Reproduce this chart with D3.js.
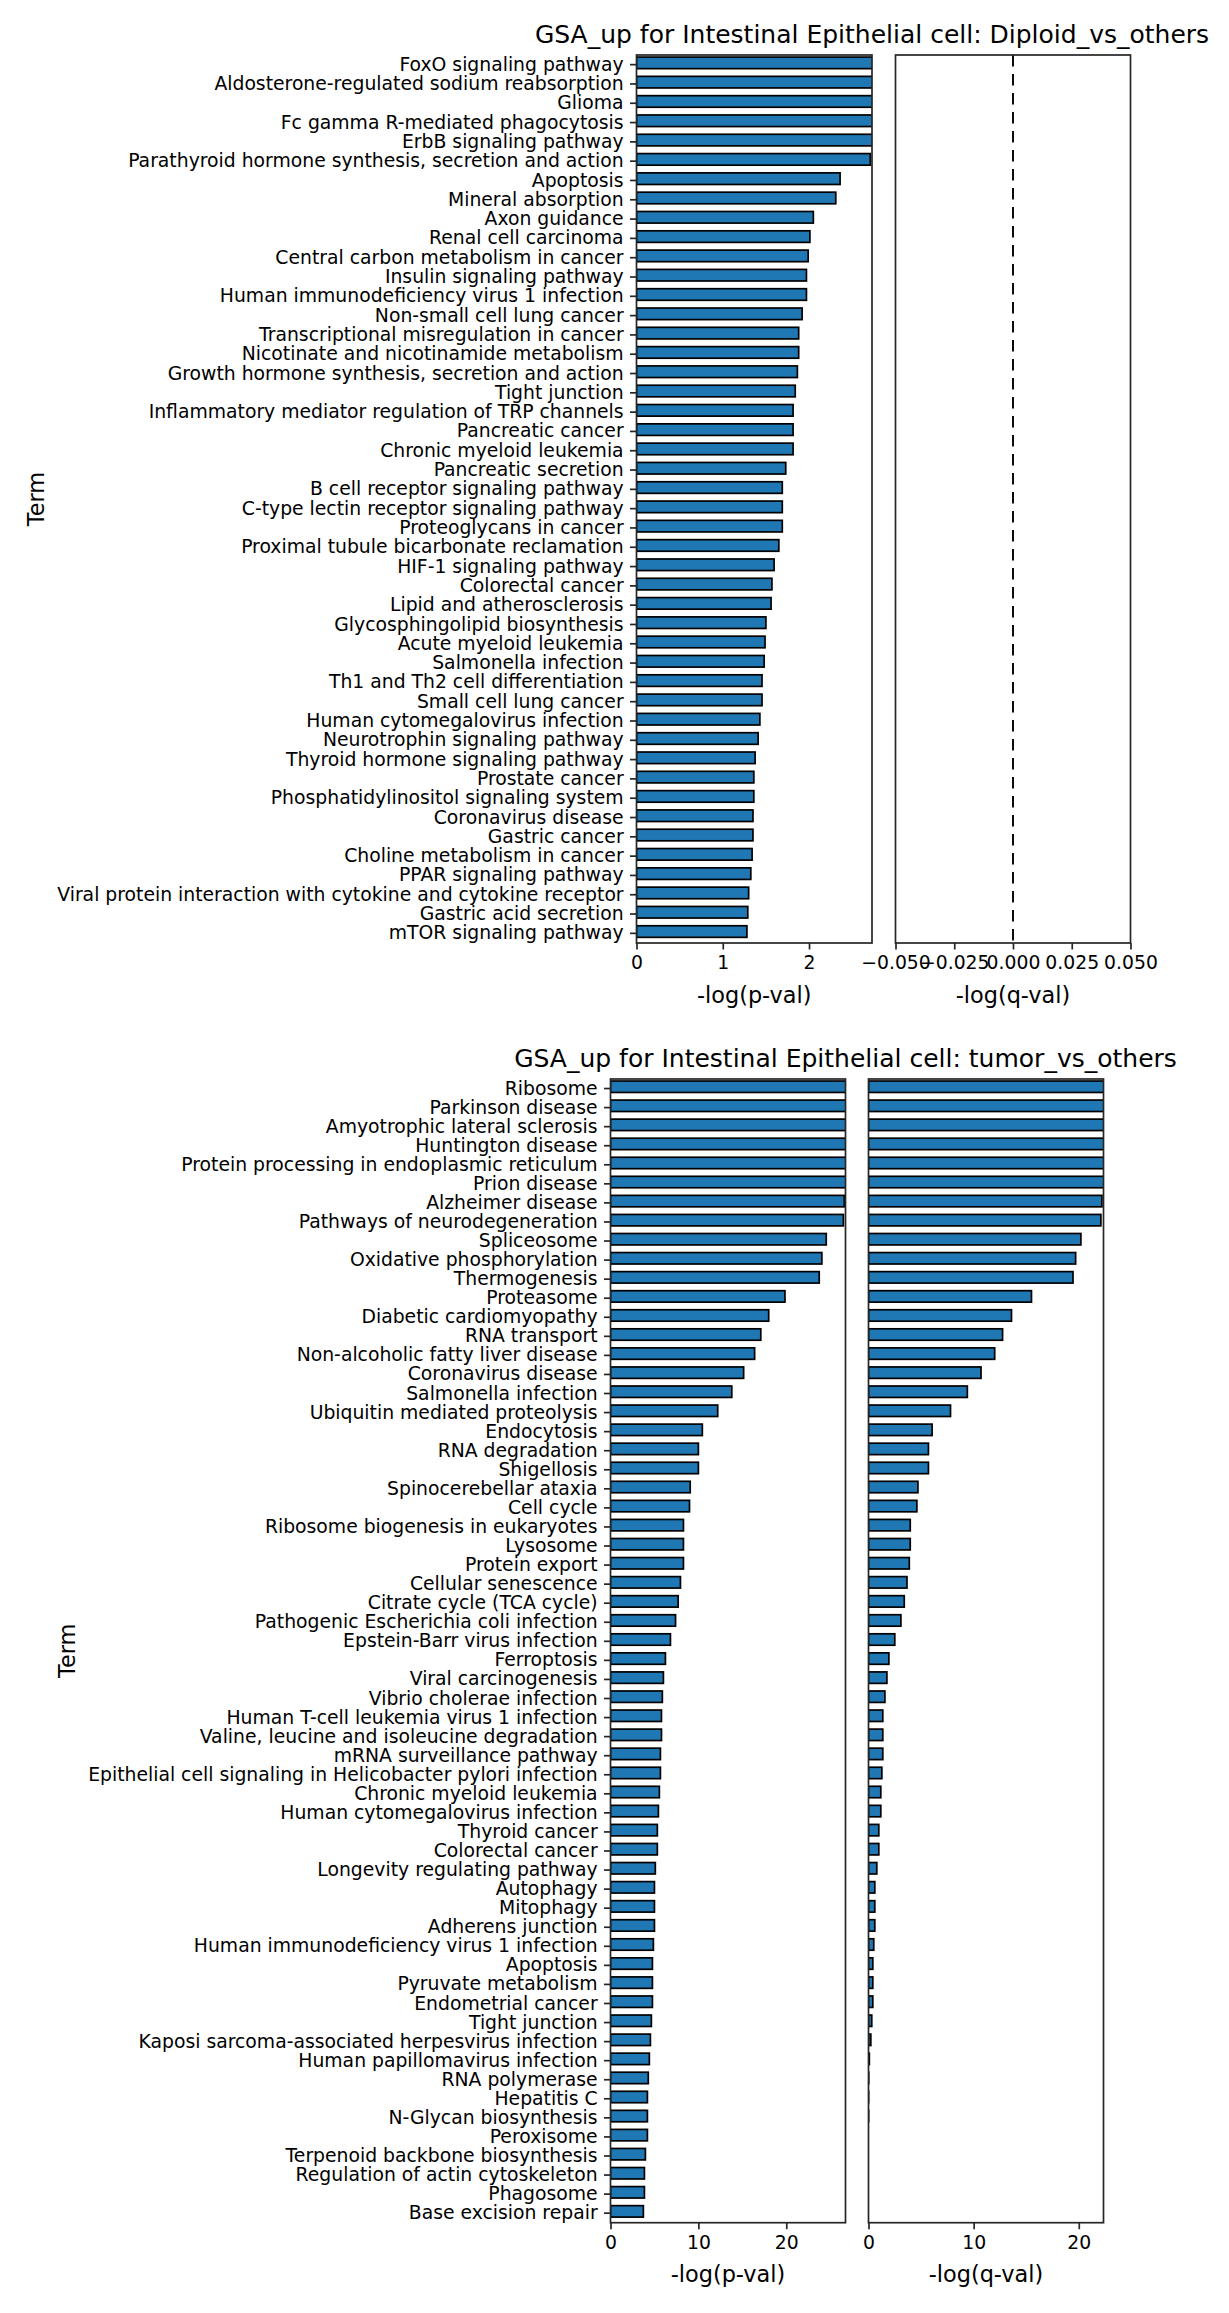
<!DOCTYPE html>
<html>
<head>
<meta charset="utf-8">
<script src="https://cdn.jsdelivr.net/npm/d3@7"></script>
<style>
  body { margin: 0; background: #fff; }
  text { font-family: "DejaVu Sans", sans-serif; }
</style>
</head>
<body>
<div id="chart"></div>
<script>
// GSA_up bar charts, two figures stacked

// ---- data: top figure (Diploid_vs_others) ----
var topTerms = ["FoxO signaling pathway", "Aldosterone-regulated sodium reabsorption", "Glioma",
  "Fc gamma R-mediated phagocytosis", "ErbB signaling pathway",
  "Parathyroid hormone synthesis, secretion and action", "Apoptosis", "Mineral absorption",
  "Axon guidance", "Renal cell carcinoma", "Central carbon metabolism in cancer",
  "Insulin signaling pathway", "Human immunodeficiency virus 1 infection", "Non-small cell lung cancer",
  "Transcriptional misregulation in cancer", "Nicotinate and nicotinamide metabolism",
  "Growth hormone synthesis, secretion and action", "Tight junction",
  "Inflammatory mediator regulation of TRP channels", "Pancreatic cancer", "Chronic myeloid leukemia",
  "Pancreatic secretion", "B cell receptor signaling pathway", "C-type lectin receptor signaling pathway",
  "Proteoglycans in cancer", "Proximal tubule bicarbonate reclamation", "HIF-1 signaling pathway",
  "Colorectal cancer", "Lipid and atherosclerosis", "Glycosphingolipid biosynthesis",
  "Acute myeloid leukemia", "Salmonella infection", "Th1 and Th2 cell differentiation",
  "Small cell lung cancer", "Human cytomegalovirus infection", "Neurotrophin signaling pathway",
  "Thyroid hormone signaling pathway", "Prostate cancer", "Phosphatidylinositol signaling system",
  "Coronavirus disease", "Gastric cancer", "Choline metabolism in cancer", "PPAR signaling pathway",
  "Viral protein interaction with cytokine and cytokine receptor", "Gastric acid secretion",
  "mTOR signaling pathway"];
var topPval = [2.9, 2.9, 2.9, 2.9, 2.9, 2.71, 2.36, 2.31, 2.05, 2.01, 1.99, 1.97, 1.97, 1.92, 1.88,
  1.88, 1.865, 1.84, 1.815, 1.815, 1.815, 1.73, 1.69, 1.69, 1.69, 1.65, 1.595, 1.57, 1.56, 1.50,
  1.49, 1.48, 1.455, 1.455, 1.43, 1.41, 1.375, 1.36, 1.36, 1.35, 1.35, 1.34, 1.325, 1.30, 1.29, 1.28];
var topQval = [];   // nothing significant, empty panel
var topPTicks = [0, 1, 2];
var topQTicks = [-0.05, -0.025, 0, 0.025, 0.05];

// ---- data: bottom figure (tumor_vs_others) ----
var botTerms = ["Ribosome", "Parkinson disease", "Amyotrophic lateral sclerosis", "Huntington disease",
  "Protein processing in endoplasmic reticulum", "Prion disease", "Alzheimer disease",
  "Pathways of neurodegeneration", "Spliceosome", "Oxidative phosphorylation", "Thermogenesis",
  "Proteasome", "Diabetic cardiomyopathy", "RNA transport", "Non-alcoholic fatty liver disease",
  "Coronavirus disease", "Salmonella infection", "Ubiquitin mediated proteolysis", "Endocytosis",
  "RNA degradation", "Shigellosis", "Spinocerebellar ataxia", "Cell cycle",
  "Ribosome biogenesis in eukaryotes", "Lysosome", "Protein export", "Cellular senescence",
  "Citrate cycle (TCA cycle)", "Pathogenic Escherichia coli infection", "Epstein-Barr virus infection",
  "Ferroptosis", "Viral carcinogenesis", "Vibrio cholerae infection",
  "Human T-cell leukemia virus 1 infection", "Valine, leucine and isoleucine degradation",
  "mRNA surveillance pathway", "Epithelial cell signaling in Helicobacter pylori infection",
  "Chronic myeloid leukemia", "Human cytomegalovirus infection", "Thyroid cancer", "Colorectal cancer",
  "Longevity regulating pathway", "Autophagy", "Mitophagy", "Adherens junction",
  "Human immunodeficiency virus 1 infection", "Apoptosis", "Pyruvate metabolism", "Endometrial cancer",
  "Tight junction", "Kaposi sarcoma-associated herpesvirus infection", "Human papillomavirus infection",
  "RNA polymerase", "Hepatitis C", "N-Glycan biosynthesis", "Peroxisome",
  "Terpenoid backbone biosynthesis", "Regulation of actin cytoskeleton", "Phagosome",
  "Base excision repair"];
var botPval = [28, 28, 28, 28, 28, 28, 26.6, 26.5, 24.55, 24.05, 23.75, 19.85, 18.0, 17.1, 16.4,
  15.15, 13.8, 12.2, 10.45, 10.0, 10.0, 9.07, 8.99, 8.3, 8.3, 8.3, 7.96, 7.7, 7.4, 6.82,
  6.25, 6.02, 5.9, 5.8, 5.8, 5.68, 5.68, 5.56, 5.45, 5.33, 5.33, 5.1, 5.0, 5.0, 5.0,
  4.88, 4.77, 4.77, 4.77, 4.65, 4.54, 4.42, 4.3, 4.2, 4.2, 4.2, 3.97, 3.86, 3.86, 3.74];
var botQval = [23, 23, 23, 23, 23, 23, 22.2, 22.1, 20.2, 19.7, 19.45, 15.5, 13.6, 12.75, 12.0,
  10.7, 9.4, 7.8, 6.05, 5.7, 5.7, 4.7, 4.6, 3.97, 3.97, 3.88, 3.66, 3.4, 3.08, 2.5,
  1.94, 1.75, 1.56, 1.36, 1.36, 1.36, 1.27, 1.17, 1.17, 0.98, 0.98, 0.79, 0.6, 0.6, 0.6,
  0.5, 0.41, 0.41, 0.41, 0.31, 0.22, 0.08, 0.02, 0.01, 0.01, 0, 0, 0, 0, 0];
var botTicks = [0, 10, 20];

// global look
var width = 1229;
var height = 2313;
var barColor = "#1f77b4";
var ink = "#262626";
var tickFont = 18.8;
var labelFont = 22.4;
var titleFont = 25.0;
var barShift = -1.8;   // bars sit a hair above their ticks in the original
var clipId = 0;

var svg = d3.select("#chart").append("svg")
  .attr("width", width)
  .attr("height", height);

svg.append("rect").attr("width", width).attr("height", height).attr("fill", "#fff");

// one panel = one axes box with horizontal bars
function drawPanel(cfg) {
  var g = svg.append("g");

  var y = d3.scaleBand()
    .domain(cfg.terms)
    .range([cfg.y0, cfg.y1])
    .paddingInner(0.4)
    .paddingOuter(0.2);

  var x = d3.scaleLinear()
    .domain(cfg.xDomain)
    .range([cfg.x0, cfg.x1]);

  clipId++;
  var cid = "clip" + clipId;
  g.append("clipPath").attr("id", cid)
    .append("rect")
    .attr("x", cfg.x0).attr("y", cfg.y0)
    .attr("width", cfg.x1 - cfg.x0).attr("height", cfg.y1 - cfg.y0);

  var rows = cfg.terms.map(function(t, i) { return { term: t, value: cfg.values[i] }; })
    .filter(function(d) { return d.value !== undefined; });

  g.append("g").attr("clip-path", "url(#" + cid + ")")
    .selectAll("rect")
    .data(rows)
    .enter()
    .append("rect")
    .attr("x", x(0))
    .attr("y", function(d) { return y(d.term) + barShift; })
    .attr("width", function(d) { return Math.max(0, x(d.value) - x(0)); })
    .attr("height", y.bandwidth())
    .attr("fill", barColor)
    .attr("stroke", "#000")
    .attr("stroke-width", 1.7);

  // dashed reference line
  if (cfg.dashAt !== undefined) {
    g.append("line")
      .attr("x1", x(cfg.dashAt)).attr("x2", x(cfg.dashAt))
      .attr("y1", cfg.y0).attr("y2", cfg.y1)
      .attr("stroke", "#000")
      .attr("stroke-width", 1.9)
      .attr("stroke-dasharray", "11.5,7.5");
  }

  // x axis
  var xa = g.append("g")
    .attr("transform", "translate(0," + cfg.y1 + ")")
    .call(d3.axisBottom(x).tickValues(cfg.xTicks).tickFormat(cfg.fmt).tickSize(6.5).tickPadding(6.4));
  styleAxis(xa);

  // y axis (only on first panel)
  var minLeft = cfg.x0;
  if (cfg.showY) {
    var ya = g.append("g")
      .attr("transform", "translate(" + cfg.x0 + ",0)")
      .call(d3.axisLeft(y).tickSize(6.5).tickPadding(6.4));
    styleAxis(ya);
    ya.selectAll("text").each(function() {
      var b = this.getBBox();
      minLeft = Math.min(minLeft, cfg.x0 + b.x);
    });
  }

  // frame (all four spines)
  g.append("rect")
    .attr("x", cfg.x0).attr("y", cfg.y0)
    .attr("width", cfg.x1 - cfg.x0).attr("height", cfg.y1 - cfg.y0)
    .attr("fill", "none")
    .attr("stroke", ink)
    .attr("stroke-width", 1.7);

  // x label
  g.append("text")
    .attr("x", (cfg.x0 + cfg.x1) / 2)
    .attr("y", cfg.y1 + 59.5)
    .attr("text-anchor", "middle")
    .attr("font-size", labelFont)
    .attr("fill", "#000")
    .text(cfg.xLabel);

  if (cfg.showY) {
    g.append("text")
      .attr("transform", "translate(" + (minLeft - 13.5) + "," + ((cfg.y0 + cfg.y1) / 2) + ") rotate(-90)")
      .attr("text-anchor", "middle")
      .attr("font-size", labelFont)
      .attr("fill", "#000")
      .text("Term");
  }

  if (cfg.title) {
    g.append("text")
      .attr("x", cfg.x1)
      .attr("y", cfg.y0 - 12)
      .attr("text-anchor", "middle")
      .attr("font-size", titleFont)
      .attr("fill", "#000")
      .text(cfg.title);
  }
}

function styleAxis(a) {
  a.select(".domain").remove();
  a.selectAll(".tick line").attr("stroke", ink).attr("stroke-width", 1.7);
  a.selectAll(".tick text")
    .attr("font-size", tickFont)
    .attr("font-family", "DejaVu Sans")
    .attr("fill", "#000");
}

var fmtInt = d3.format("d");
var fmtQ = d3.format(".3f");

// top figure
drawPanel({
  x0: 636.5, x1: 872, y0: 55, y1: 943,
  terms: topTerms, values: topPval, xDomain: [0, 2.73], xTicks: topPTicks, fmt: fmtInt,
  xLabel: "-log(p-val)", showY: true,
  title: "GSA_up for Intestinal Epithelial cell: Diploid_vs_others"
});
drawPanel({
  x0: 895.5, x1: 1130.5, y0: 55, y1: 943,
  terms: topTerms, values: topQval, xDomain: [-0.05, 0.05], xTicks: topQTicks, fmt: fmtQ,
  xLabel: "-log(q-val)", showY: false, dashAt: 0
});

// bottom figure
drawPanel({
  x0: 610.5, x1: 845.5, y0: 1079, y1: 2222.7,
  terms: botTerms, values: botPval, xDomain: [0, 26.74], xTicks: botTicks, fmt: fmtInt,
  xLabel: "-log(p-val)", showY: true,
  title: "GSA_up for Intestinal Epithelial cell: tumor_vs_others"
});
drawPanel({
  x0: 868.5, x1: 1103.5, y0: 1079, y1: 2222.7,
  terms: botTerms, values: botQval, xDomain: [0, 22.35], xTicks: botTicks, fmt: fmtInt,
  xLabel: "-log(q-val)", showY: false
});
</script>
</body>
</html>
